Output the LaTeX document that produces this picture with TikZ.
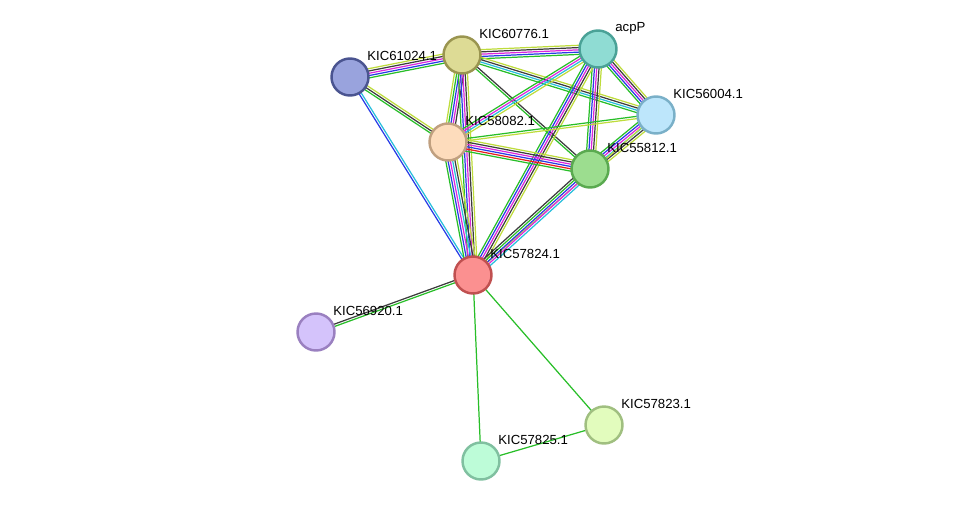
\documentclass[tikz,border=0pt]{standalone}
\usepackage{fontspec}
\setmainfont{Liberation Sans}
\usetikzlibrary{calc, backgrounds}
\definecolor{snGreen}{RGB}{40,190,40}
\definecolor{snRed}{RGB}{230,30,30}
\definecolor{snBlue}{RGB}{40,60,230}
\definecolor{snMag}{RGB}{220,40,220}
\definecolor{snCyan}{RGB}{40,190,220}
\definecolor{snBlack}{RGB}{60,60,60}
\definecolor{snYel}{RGB}{190,220,60}
\definecolor{fA}{RGB}{153,163,221}\definecolor{bA}{RGB}{74,84,144}
\definecolor{fB}{RGB}{221,219,149}\definecolor{bB}{RGB}{154,149,80}
\definecolor{fC}{RGB}{143,220,211}\definecolor{bC}{RGB}{74,162,151}
\definecolor{fD}{RGB}{189,230,251}\definecolor{bD}{RGB}{122,176,200}
\definecolor{fE}{RGB}{253,220,188}\definecolor{bE}{RGB}{192,160,128}
\definecolor{fF}{RGB}{156,221,143}\definecolor{bF}{RGB}{90,170,80}
\definecolor{fG}{RGB}{251,144,144}\definecolor{bG}{RGB}{192,80,80}
\definecolor{fH}{RGB}{212,195,251}\definecolor{bH}{RGB}{154,128,192}
\definecolor{fI}{RGB}{226,252,189}\definecolor{bI}{RGB}{160,191,128}
\definecolor{fJ}{RGB}{189,252,216}\definecolor{bJ}{RGB}{128,192,160}
\tikzset{
    prot/.style={
        circle, draw=b#1, fill=f#1, line width=1.4pt, minimum size=0.74cm, inner sep=0pt
    },
    lbl/.style={
        font=\fontsize{7.5}{8}\selectfont, anchor=west, inner sep=0pt
    }
}
\newcommand\stredge[3]{%
  \foreach \c [count=\i] in {#3} {\xdef\nc{\i}}
  \foreach \c [count=\i] in {#3} {
    \pgfmathsetmacro\o{(\i-(\nc+1)/2)*1.3}
    \draw[\c, line width=0.7pt] ($(#1)!\o pt!90:(#2)$) -- ($(#2)!\o pt!-90:(#1)$);
  }}

\begin{document}
\begin{tikzpicture}[x=0.02cm, y=-0.02cm]
    \useasboundingbox (0,0) rectangle (976,507);
    % proteins
    \node[prot=A] (k61024) at (350,77) {};
    \node[prot=B] (k60776) at (462,55) {};
    \node[prot=C] (acpp) at (598,49) {};
    \node[prot=D] (k56004) at (656,115) {};
    \node[prot=E] (k58082) at (448,142) {};
    \node[prot=F] (k55812) at (590,169) {};
    \node[prot=G] (k57824) at (473,275) {};
    \node[prot=H] (k56920) at (316,332) {};
    \node[prot=I] (k57823) at (604,425) {};
    \node[prot=J] (k57825) at (481,461) {};
    % labels
    \foreach \n/\t in {k61024/KIC61024.1, k60776/KIC60776.1, acpp/acpP, k56004/KIC56004.1,
        k58082/KIC58082.1, k55812/KIC55812.1, k57824/KIC57824.1, k56920/KIC56920.1,
        k57823/KIC57823.1, k57825/KIC57825.1}
        \node[lbl] (\n-l) at ($(\n)+(17,-21)$) {\t};
    % edges
    \begin{scope}[on background layer]
        \stredge{k61024}{k60776}{snGreen, snBlue, snMag, snBlack, snYel}
        \stredge{k61024}{k58082}{snGreen, snBlack, snYel}
        \stredge{k61024}{k57824}{snBlue, snCyan}
        \stredge{k60776}{acpp}{snGreen, snBlue, snMag, snBlack, snYel}
        \stredge{k60776}{k58082}{snYel, snGreen, snBlue, snMag, snBlack}
        \stredge{k60776}{k57824}{snGreen, snBlue, snMag, snBlack, snYel}
        \stredge{k60776}{k56004}{snGreen, snCyan, snBlack, snYel}
        \stredge{k60776}{k55812}{snGreen, snBlack}
        \stredge{acpp}{k56004}{snGreen, snBlue, snMag, snBlack, snYel}
        \stredge{acpp}{k58082}{snGreen, snMag, snCyan, snYel}
        \stredge{acpp}{k55812}{snGreen, snBlue, snMag, snBlack, snYel}
        \stredge{acpp}{k57824}{snGreen, snBlue, snMag, snBlack, snYel}
        \stredge{k56004}{k58082}{snGreen, snYel}
        \stredge{k56004}{k55812}{snGreen, snBlue, snMag, snCyan, snBlack, snYel}
        \stredge{k56004}{k57824}{snYel}
        \stredge{k58082}{k55812}{snGreen, snRed, snBlue, snMag, snBlack, snYel}
        \stredge{k58082}{k57824}{snGreen, snBlue, snMag, snCyan, snBlack, snYel}
        \stredge{k55812}{k57824}{snBlack, snGreen, snBlue, snMag, snCyan}
        \stredge{k57824}{k56920}{snBlack, snGreen}
        \stredge{k57824}{k57823}{snGreen}
        \stredge{k57824}{k57825}{snGreen}
        \stredge{k57825}{k57823}{snGreen}
    \end{scope}
\end{tikzpicture}
\end{document}
